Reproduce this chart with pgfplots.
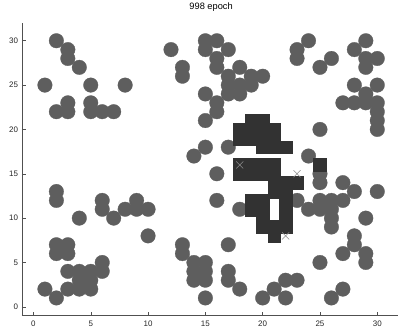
\documentclass[border=0pt]{standalone}
\usepackage{pgfplots}
\pgfplotsset{compat=1.18}
\usepackage{fontspec}
\setmainfont{Liberation Sans}
\definecolor{circ}{RGB}{94,94,94}
\definecolor{sq}{RGB}{50,50,50}
\definecolor{xm}{RGB}{140,140,140}
\definecolor{axc}{RGB}{80,80,80}
\begin{document}
\begin{tikzpicture}
\begin{axis}[
  scale only axis, width=378.2bp, height=292.7bp,
  xmin=-1, xmax=32, ymin=-1, ymax=32,
  axis x line*=bottom, axis y line*=left,
  axis line style={axc, line width=0.6pt},
  every tick/.style={axc, line width=0.5pt},
  tick align=inside, major tick length=4bp,
  xtick={0,5,...,30}, ytick={0,5,...,30},
  /pgf/number format/assume math mode=true,
  tick label style={font=\fontsize{8}{9}\selectfont, text=black!85},
  xticklabel style={anchor=base, yshift=-10.8bp},
  yticklabel style={xshift=-0.5bp},
  title={998 epoch},
  title style={font=\fontsize{9.3}{10}\selectfont, at={(0.5,1)}, anchor=base, yshift=7.5bp},
]
\coordinate (bl) at (rel axis cs:0,0);
\coordinate (tr) at (rel axis cs:1,1);
% gray circles
\addplot[only marks, mark=*, mark size=7.3bp, mark options={fill=circ, draw=circ, line width=0.3pt}] coordinates {
(1,25) (2,30) (3,29) (3,28) (4,27) (5,25) (8,25) (2,22) (3,22) (3,23) (5,23) (5,22) (6,22) (7,22)
(12,29) (13,27) (13,26)
(15,30) (16,30) (15,29) (17,29) (16,28) (16,27) (18,27) (19,26) (20,26) (17,26) (17,25) (18,25) (19,25)
(15,24) (16,23) (17,24) (18,24) (16,22) (15,21)
(14,17) (15,18) (17,18) (16,15) (16,12) (18,11)
(24,30) (23,29) (23,28) (26,28) (25,27) (29,30) (28,29) (29,28) (30,28) (29,27)
(28,25) (30,25) (27,23) (28,23) (29,23) (29,24) (30,23) (30,22) (30,21) (30,20) (25,20) (24,17)
(25,15) (25,14) (27,14) (28,13) (30,13) (23,12) (24,11) (25,12) (25,11) (26,12) (26,11) (27,12) (26,10) (26,9) (29,10)
(28,8) (28,7) (27,6) (29,6) (29,5) (25,5) (27,2) (26,1) (23,3) (22,3) (22,1) (21,2) (20,1) (18,2) (17,3) (17,4) (17,7)
(15,1) (15,3) (15,4) (15,5) (14,3) (14,4) (14,5) (13,6) (13,7) (10,8)
(7,10) (8,11) (9,12) (9,11) (10,11) (6,12) (6,11) (4,10) (2,13) (2,12)
(2,7) (3,7) (2,6) (3,6) (6,5) (6,4) (3,4) (4,4) (5,4) (4,3) (5,3) (3,2) (4,2) (5,2) (1,2) (2,1)
};
% dark squares
\addplot[only marks, mark=square*, mark size=6.4bp, mark options={fill=sq, draw=sq, line width=0.3pt}] coordinates {
(19,21) (20,21)
(18,20) (19,20) (20,20) (21,20)
(18,19) (19,19) (20,19) (21,19)
(20,18) (21,18) (22,18)
(18,16) (19,16) (20,16) (21,16)
(18,15) (19,15) (20,15) (21,15)
(21,14) (22,14) (23,14)
(21,13) (22,13)
(19,12) (20,12) (22,12)
(19,11) (20,11) (22,11)
(20,10) (22,10)
(20,9) (21,9) (22,9)
(21,8)
(25,16)
};
% x marks
\addplot[only marks, mark=x, mark size=5bp, mark options={draw=xm, line width=0.5pt}] coordinates {
(18,16) (23,15) (22,8)
};
\end{axis}
\pgfresetboundingbox
\path ([xshift=-22bp,yshift=-13.3bp]bl) rectangle ([xshift=-2.2bp,yshift=23bp]tr);
\end{tikzpicture}
\end{document}
